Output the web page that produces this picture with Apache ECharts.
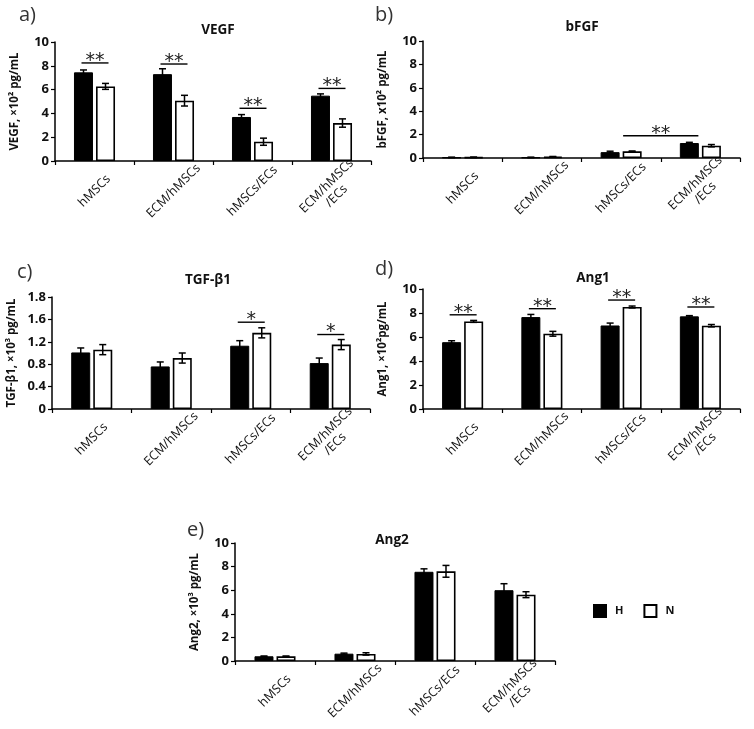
<!DOCTYPE html>
<html>
<head>
<meta charset="utf-8">
<script src="https://cdn.jsdelivr.net/npm/echarts@6/dist/echarts.min.js"></script>
<style>
html,body{margin:0;padding:0;background:#fff;}
#chart{width:754px;height:729px;}
</style>
</head>
<body>
<div id="chart"></div>
<script>
// ---------- data ----------
const categories = ['hMSCs', 'ECM/hMSCs', 'hMSCs/ECs', 'ECM/hMSCs\n/ECs'];

const vegfH = [7.45, 7.3, 3.7, 5.49];
const vegfHErr = [0.2, 0.45, 0.2, 0.15];
const vegfN = [6.27, 5.07, 1.62, 3.19];
const vegfNErr = [0.25, 0.45, 0.3, 0.35];
const vegfSig = [[0, 0, 8.24], [1, 1, 8.15], [2, 2, 4.43], [3, 3, 6.1]];
const vegfSigText = ['**', '**', '**', '**'];

const bfgfH = [0.05, 0.05, 0.5, 1.28];
const bfgfHErr = [0.02, 0.02, 0.08, 0.06];
const bfgfN = [0.06, 0.1, 0.57, 1.05];
const bfgfNErr = [0.02, 0.03, 0.03, 0.1];
const bfgfSig = [[2, 3, 1.9]];
const bfgfSigText = ['**'];

const tgfH = [1.01, 0.76, 1.13, 0.82];
const tgfHErr = [0.08, 0.08, 0.09, 0.09];
const tgfN = [1.06, 0.91, 1.36, 1.15];
const tgfNErr = [0.09, 0.09, 0.09, 0.09];
const tgfSig = [[2, 2, 1.55], [3, 3, 1.33]];
const tgfSigText = ['*', '*'];
const tgfTickLabels = ['0', '0.4', '0.8', '1.2', '1.6', '1.8'];

const ang1H = [5.57, 7.66, 6.96, 7.72];
const ang1HErr = [0.12, 0.22, 0.2, 0.06];
const ang1N = [7.3, 6.27, 8.5, 6.94];
const ang1NErr = [0.08, 0.2, 0.08, 0.1];
const ang1Sig = [[0, 0, 7.85], [1, 1, 8.36], [2, 2, 9.08], [3, 3, 8.5]];
const ang1SigText = ['**', '**', '**', '**'];

const ang2H = [0.4, 0.62, 7.56, 6.0];
const ang2HErr = [0.02, 0.05, 0.25, 0.55];
const ang2N = [0.4, 0.6, 7.6, 5.62];
const ang2NErr = [0.02, 0.1, 0.5, 0.25];

// ---------- rendering ----------
const FONT = '"Open Sans", "Liberation Sans", sans-serif';
const BAR_W = 19;
const BAR_OFF = 11;

const panels = [
  { grid: { left: 55, top: 42, width: 316, height: 119 }, max: 10, interval: 2,
    name: 'VEGF, \u00d710\u00b2 pg/mL', H: vegfH, He: vegfHErr, N: vegfN, Ne: vegfNErr, sig: vegfSig, sigText: vegfSigText },
  { grid: { left: 423, top: 41, width: 317, height: 117 }, max: 10, interval: 2,
    name: 'bFGF, x10\u00b2 pg/mL', H: bfgfH, He: bfgfHErr, N: bfgfN, Ne: bfgfNErr, sig: bfgfSig, sigText: bfgfSigText },
  { grid: { left: 52, top: 297, width: 318, height: 112 }, max: 2, interval: 0.4, ticks: tgfTickLabels,
    name: 'TGF-\u03b21, \u00d710\u00b3 pg/mL', H: tgfH, He: tgfHErr, N: tgfN, Ne: tgfNErr, sig: tgfSig, sigText: tgfSigText },
  { grid: { left: 423, top: 289, width: 317, height: 120 }, max: 10, interval: 2,
    name: 'Ang1, \u00d710\u00b2pg/mL', H: ang1H, He: ang1HErr, N: ang1N, Ne: ang1NErr, sig: ang1Sig, sigText: ang1SigText },
  { grid: { left: 235, top: 543, width: 320, height: 118 }, max: 10, interval: 2,
    name: 'Ang2, \u00d710\u00b3 pg/mL', H: ang2H, He: ang2HErr, N: ang2N, Ne: ang2NErr, sig: null, sigText: null }
];

const grids = [], xAxes = [], yAxes = [], series = [];

function errRender(off) {
  return function (params, api) {
    const cat = api.value(0), v = api.value(1), e = api.value(2);
    const c = api.coord([cat, v]);
    const x = c[0] + off;
    const yt = api.coord([cat, v + e])[1];
    const yb = api.coord([cat, Math.max(0, v - e)])[1];
    const st = { stroke: '#000', lineWidth: 1.5 };
    return { type: 'group', children: [
      { type: 'line', shape: { x1: x, y1: yt, x2: x, y2: yb }, style: st },
      { type: 'line', shape: { x1: x - 3.5, y1: yt, x2: x + 3.5, y2: yt }, style: st },
      { type: 'line', shape: { x1: x - 3.5, y1: yb, x2: x + 3.5, y2: yb }, style: st }
    ]};
  };
}

function sigRender(texts) {
  return function (params, api) {
    const a = api.value(0), b = api.value(1), y = api.value(2);
    const pa = api.coord([a, y]);
    const pb = api.coord([b, y]);
    let x1, x2;
    if (a === b) { x1 = pa[0] - 13; x2 = pa[0] + 14; }
    else { x1 = pa[0] + 2; x2 = pb[0] - 2; }
    return { type: 'group', children: [
      { type: 'line', shape: { x1: x1, y1: pa[1], x2: x2, y2: pa[1] }, style: { stroke: '#000', lineWidth: 1.4 } },
      { type: 'text', style: { text: texts[params.dataIndex], x: (x1 + x2) / 2, y: pa[1] - 2,
          align: 'center', verticalAlign: 'middle', fill: '#222',
          font: '19px "DejaVu Sans", sans-serif' } }
    ]};
  };
}

panels.forEach((p, i) => {
  grids.push(Object.assign({ containLabel: false }, p.grid));
  xAxes.push({
    type: 'category', gridIndex: i, data: categories,
    axisLine: { lineStyle: { color: '#000', width: 1.5 } },
    axisTick: { show: true, length: 4, lineStyle: { color: '#000', width: 1.2 } },
    axisLabel: { rotate: 45, margin: 30, align: 'center', verticalAlign: 'middle',
      interval: 0, fontSize: 12.5, color: '#111', fontFamily: FONT, lineHeight: 14 }
  });
  yAxes.push({
    type: 'value', gridIndex: i, min: 0, max: p.max, interval: p.interval,
    name: p.name, nameLocation: 'middle', nameGap: 34, nameRotate: 90,
    nameTextStyle: { fontSize: 11.5, fontWeight: 'bold', color: '#111', fontFamily: FONT },
    axisLine: { show: true, lineStyle: { color: '#000', width: 1.5 } },
    axisTick: { show: true, length: 4, lineStyle: { color: '#000', width: 1.2 } },
    splitLine: { show: false },
    axisLabel: { fontSize: 13, fontWeight: 'bold', color: '#111', fontFamily: FONT, margin: 6,
      formatter: p.ticks ? function (v) { return p.ticks[Math.round(v / p.interval)]; } : null }
  });
  series.push({
    name: 'H', type: 'bar', xAxisIndex: i, yAxisIndex: i, data: p.H,
    barWidth: BAR_W, barGap: '16%',
    itemStyle: { color: '#000', borderColor: '#000', borderWidth: 1 }, silent: true
  });
  series.push({
    name: 'N', type: 'bar', xAxisIndex: i, yAxisIndex: i, data: p.N,
    barWidth: BAR_W, barGap: '16%',
    itemStyle: { color: '#fff', borderColor: '#000', borderWidth: 1.6 }, silent: true
  });
  series.push({
    type: 'custom', xAxisIndex: i, yAxisIndex: i, z: 10, silent: true,
    data: p.H.map((v, k) => [k, v, p.He[k]]), renderItem: errRender(-BAR_OFF)
  });
  series.push({
    type: 'custom', xAxisIndex: i, yAxisIndex: i, z: 10, silent: true,
    data: p.N.map((v, k) => [k, v, p.Ne[k]]), renderItem: errRender(BAR_OFF)
  });
  if (p.sig) {
    series.push({
      type: 'custom', xAxisIndex: i, yAxisIndex: i, z: 10, silent: true,
      data: p.sig, renderItem: sigRender(p.sigText)
    });
  }
});

const titleStyle = { fontSize: 13.5, fontWeight: 'bold', color: '#111', fontFamily: FONT };
const letterStyle = { fontSize: 20, fontWeight: 'normal', color: '#333', fontFamily: FONT };
const titles = [
  { text: 'VEGF', left: 213, top: 18, textAlign: 'center', textStyle: titleStyle },
  { text: 'bFGF', left: 577, top: 15, textAlign: 'center', textStyle: titleStyle },
  { text: 'TGF-\u03b21', left: 203, top: 268, textAlign: 'center', textStyle: titleStyle },
  { text: 'Ang1', left: 588, top: 266, textAlign: 'center', textStyle: titleStyle },
  { text: 'Ang2', left: 387, top: 528, textAlign: 'center', textStyle: titleStyle },
  { text: 'a)', left: 14, top: 0, textStyle: letterStyle },
  { text: 'b)', left: 370, top: 0, textStyle: letterStyle },
  { text: 'c)', left: 12, top: 257, textStyle: letterStyle },
  { text: 'd)', left: 370, top: 254, textStyle: letterStyle },
  { text: 'e)', left: 182, top: 515, textStyle: letterStyle }
];

const chart = echarts.init(document.getElementById('chart'), null, { renderer: 'canvas' });
chart.setOption({
  backgroundColor: '#fff',
  animation: false,
  title: titles,
  legend: {
    data: ['H', 'N'], left: 588, top: 599, orient: 'horizontal',
    itemWidth: 12, itemHeight: 12, itemGap: 20, icon: 'rect',
    textStyle: { fontSize: 11, fontWeight: 'bold', color: '#111', fontFamily: FONT, padding: [0, 0, 0, 4] }
  },
  grid: grids, xAxis: xAxes, yAxis: yAxes, series: series
});
</script>
</body>
</html>
